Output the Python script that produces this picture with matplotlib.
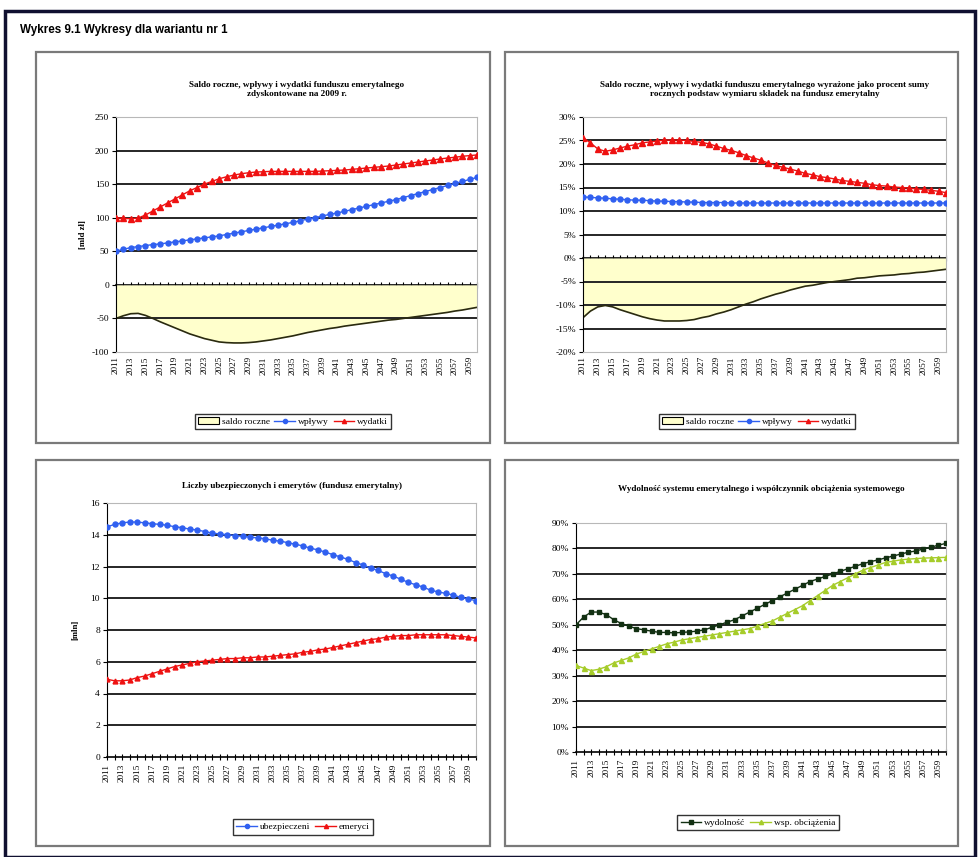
import numpy as np
import matplotlib.pyplot as plt
from matplotlib.patches import Rectangle, Patch
from matplotlib.lines import Line2D

plt.rcParams['font.family'] = ['Liberation Serif', 'DejaVu Serif']

years = list(range(2011, 2061))

# fundusz emerytalny, mld zl (zdyskontowane na 2009 r.)
wplywy = [50, 53, 55.5, 57, 58.5, 60, 61, 62.5, 64, 65.5,
          67, 68.5, 70, 71.5, 73, 75, 77, 79, 81, 83,
          85, 87, 89, 91, 93, 95.5, 98, 100, 102.5, 105,
          107, 109.5, 112, 114.5, 117, 119.5, 122, 124.5, 127, 130,
          133, 136, 139, 142, 145, 148, 151, 154, 157, 160]
wydatki = [100, 99, 98.5, 99.5, 104, 110, 116, 122, 128, 134,
           140, 145, 150, 154, 158, 161, 163.5, 165.5, 167, 168,
           168.5, 169, 169, 169, 169, 169, 169, 169, 169.5, 170,
           170.5, 171, 172, 173, 174, 175, 176, 177, 178.5, 180,
           181.5, 183, 184.5, 186, 187.5, 189, 190, 191.5, 192.5, 193.5]
saldo = [-50, -46, -43, -42.5, -45.5, -50, -55, -59.5, -64, -68.5,
         -73, -76.5, -80, -82.5, -85, -86, -86.5, -86.5, -86, -85,
         -83.5, -82, -80, -78, -76, -73.5, -71, -69, -67, -65,
         -63.5, -61.5, -60, -58.5, -57, -55.5, -54, -52.5, -51.5, -50,
         -48.5, -47, -45.5, -44, -42.5, -41, -39, -37.5, -35.5, -33.5]

# jako % sumy rocznych podstaw wymiaru skladek
wplywy_pct = [13.0, 12.9, 12.8, 12.7, 12.6, 12.5, 12.4, 12.3, 12.3, 12.2,
              12.1, 12.1, 12.0, 12.0, 11.9, 11.9, 11.8, 11.8, 11.8, 11.8,
              11.7, 11.7, 11.7, 11.7, 11.7, 11.7, 11.7, 11.7, 11.7, 11.7,
              11.7, 11.7, 11.7, 11.7, 11.7, 11.7, 11.7, 11.7, 11.7, 11.7,
              11.7, 11.7, 11.7, 11.7, 11.7, 11.7, 11.7, 11.7, 11.7, 11.7]
wydatki_pct = [25.6, 24.5, 23.2, 22.7, 23.0, 23.4, 23.8, 24.1, 24.5, 24.7,
               24.9, 25.1, 25.1, 25.1, 25.0, 24.8, 24.6, 24.3, 23.8, 23.3,
               22.9, 22.4, 21.8, 21.3, 20.8, 20.2, 19.7, 19.3, 18.9, 18.5,
               18.0, 17.7, 17.3, 17.1, 16.8, 16.5, 16.3, 16.1, 15.9, 15.6,
               15.4, 15.3, 15.1, 15.0, 14.9, 14.7, 14.6, 14.4, 14.2, 13.9]
saldo_pct = [-12.7, -11.3, -10.4, -10.1, -10.4, -11.0, -11.5, -12.0, -12.5, -12.9,
             -13.2, -13.4, -13.4, -13.4, -13.3, -13.1, -12.7, -12.4, -11.9, -11.5,
             -11.0, -10.4, -9.8, -9.3, -8.7, -8.2, -7.7, -7.3, -6.8, -6.4,
             -6.0, -5.8, -5.5, -5.2, -5.0, -4.8, -4.6, -4.3, -4.2, -4.0,
             -3.8, -3.7, -3.6, -3.4, -3.3, -3.1, -3.0, -2.8, -2.6, -2.4]

# liczby ubezpieczonych i emerytow, mln
ubezpieczeni = [14.5, 14.65, 14.75, 14.8, 14.8, 14.75, 14.7, 14.65, 14.6, 14.5,
                14.45, 14.35, 14.3, 14.2, 14.1, 14.05, 14.0, 13.95, 13.9, 13.85,
                13.8, 13.75, 13.65, 13.6, 13.5, 13.4, 13.3, 13.15, 13.05, 12.9,
                12.75, 12.6, 12.45, 12.25, 12.1, 11.9, 11.75, 11.55, 11.4, 11.2,
                11.0, 10.85, 10.7, 10.5, 10.4, 10.3, 10.2, 10.05, 9.95, 9.85]
emeryci = [4.9, 4.8, 4.8, 4.85, 5.0, 5.1, 5.25, 5.4, 5.55, 5.7,
           5.8, 5.9, 6.0, 6.05, 6.1, 6.15, 6.2, 6.2, 6.25, 6.25,
           6.3, 6.3, 6.35, 6.4, 6.45, 6.5, 6.6, 6.65, 6.75, 6.8,
           6.9, 7.0, 7.1, 7.2, 7.3, 7.4, 7.45, 7.55, 7.6, 7.65,
           7.65, 7.7, 7.7, 7.7, 7.7, 7.7, 7.65, 7.6, 7.55, 7.5]

# wydolnosc i wspolczynnik obciazenia, %
wydolnosc = [50, 53, 55, 55, 54, 52, 50.5, 49.5, 48.5, 48,
             47.5, 47, 47, 46.8, 47, 47.2, 47.5, 48, 49, 50,
             51, 52, 53.5, 55, 56.5, 58, 59.5, 61, 62.5, 64,
             65.5, 67, 68, 69, 70, 71, 72, 73, 74, 74.8,
             75.5, 76.3, 77, 77.8, 78.5, 79, 79.8, 80.5, 81.3, 82]
wsp_obc = [34, 33, 32, 32.5, 33.5, 35, 36, 37, 38.5, 39.5,
           40.5, 41.5, 42.5, 43.2, 44, 44.5, 45, 45.5, 46, 46.5,
           47, 47.5, 48, 48.5, 49.5, 50.5, 51.5, 53, 54.5, 56,
           57.5, 59.5, 61.5, 63.5, 65.5, 67, 68.5, 70, 71.5, 72.5,
           73.5, 74.5, 75, 75.5, 75.8, 76, 76.2, 76.3, 76.4, 76.5]

W, H = 980, 857
fig = plt.figure(figsize=(W / 100, H / 100), dpi=100)


def px(l, t, r, b):
    return [l / W, 1 - b / H, (r - l) / W, (b - t) / H]


def fx(x):
    return x / W


def fy(y):
    return 1 - y / H


BLUE = '#3060f0'
RED = '#ee1111'
YELLOW = '#ffffcc'
DARK = '#123012'
LIME = '#a6cc2a'
FS = 6.8
FT = 6.55

# ramka strony
fig.add_artist(Rectangle((fx(5), fy(857)), fx(970), fy(11) - fy(857), transform=fig.transFigure,
                         fill=False, ec='#101030', lw=2.5))
fig.text(fx(20), fy(30), 'Wykres 9.1 Wykresy dla wariantu nr 1',
         family=['Liberation Sans Narrow', 'Liberation Sans'], weight='bold', fontsize=8.4, va='center')

# ramki wykresow
for l, t, r, b in [(36, 52, 490, 443), (505, 52, 958, 443), (36, 460, 490, 846), (505, 460, 958, 846)]:
    fig.add_artist(Rectangle((fx(l), fy(b)), fx(r - l), fy(t) - fy(b), transform=fig.transFigure,
                             fill=False, ec='#7a7a7a', lw=1.6))

x = np.arange(len(years))
labels = [str(y) if (y - 2011) % 2 == 0 else '' for y in years]


def style(ax, ymin, ymax, step, pct, zero_axis):
    ax.set_xlim(0, len(years) - 1)
    ax.set_ylim(ymin, ymax)
    ticks = np.arange(ymin, ymax + step / 2, step)
    ax.set_yticks(ticks)
    ax.set_yticklabels([('%d%%' if pct else '%d') % v for v in ticks], fontsize=FS)
    for v in ticks[1:-1]:
        if v != 0 or not zero_axis:
            ax.axhline(v, color='#262626', lw=1.4, zorder=1)
    for s in ['top', 'right', 'bottom']:
        ax.spines[s].set_color('#b8b8b8')
    ax.spines['left'].set_color('black')
    ax.tick_params(axis='y', direction='out', length=3, pad=2, width=0.8)
    ax.set_xticks(x)
    ax.set_xticklabels(labels, rotation=90, fontsize=6.6)
    if zero_axis:
        ax.tick_params(axis='x', length=0, pad=3)
        sec = ax.secondary_xaxis((0 - ymin) / (ymax - ymin))
        sec.set_xticks(x)
        sec.tick_params(axis='x', direction='inout', length=4, width=0.8,
                        labelbottom=False, labeltop=False)
        sec.spines['bottom'].set_color('black')
        sec.spines['bottom'].set_linewidth(1.2)
    else:
        ax.spines['bottom'].set_color('black')
        ax.spines['bottom'].set_linewidth(1.2)
        ax.tick_params(axis='x', direction='inout', length=4, width=0.8, pad=3)


def legend(ax, handles, names, cx, cy):
    lg = ax.legend(handles, names, loc='center', bbox_to_anchor=(fx(cx), fy(cy)),
                   bbox_transform=fig.transFigure, ncol=len(handles), fontsize=FS,
                   frameon=True, fancybox=False, edgecolor='black', handlelength=2.2,
                   handletextpad=0.3, columnspacing=0.5, borderpad=0.35)
    lg.get_frame().set_linewidth(1.0)


h_saldo = Patch(fc=YELLOW, ec='black', lw=0.8)
h_blue = Line2D([], [], color=BLUE, marker='o', ms=3, lw=1)
h_red = Line2D([], [], color=RED, marker='^', ms=3, lw=1)

# 1. saldo, wplywy, wydatki w mld zl
ax1 = fig.add_axes(px(116, 117, 477, 352))
ax1.fill_between(x, saldo, 0, color=YELLOW, lw=0, zorder=0.5)
ax1.plot(x, saldo, color='#2a2a10', lw=1.2, zorder=2)
ax1.plot(x, wplywy, color=BLUE, marker='o', ms=3.6, lw=1, zorder=3)
ax1.plot(x, wydatki, color=RED, marker='^', ms=4, lw=1, zorder=3)
style(ax1, -100, 250, 50, False, True)
ax1.set_title('Saldo roczne, wpływy i wydatki funduszu emerytalnego\nzdyskontowane na 2009 r.',
              fontsize=FT, weight='bold', linespacing=1.15, pad=15)
fig.text(fx(83), fy(235), '[mld zł]', rotation=90, fontsize=FS - 0.5, weight='bold', ha='center', va='center')
legend(ax1, [h_saldo, h_blue, h_red], ['saldo roczne', 'wpływy', 'wydatki'], 293, 421.5)

# 2. to samo w procentach podstaw wymiaru
ax2 = fig.add_axes(px(583, 117, 946, 352))
ax2.fill_between(x, saldo_pct, 0, color=YELLOW, lw=0, zorder=0.5)
ax2.plot(x, saldo_pct, color='#2a2a10', lw=1.2, zorder=2)
ax2.plot(x, wplywy_pct, color=BLUE, marker='o', ms=3.6, lw=1, zorder=3)
ax2.plot(x, wydatki_pct, color=RED, marker='^', ms=4, lw=1, zorder=3)
style(ax2, -20, 30, 5, True, True)
ax2.set_title('Saldo roczne, wpływy i wydatki funduszu emerytalnego wyrażone jako procent sumy\n'
              'rocznych podstaw wymiaru składek na fundusz emerytalny',
              fontsize=FT, weight='bold', linespacing=1.15, pad=15)
legend(ax2, [h_saldo, h_blue, h_red], ['saldo roczne', 'wpływy', 'wydatki'], 757, 421.5)

# 3. ubezpieczeni i emeryci
ax3 = fig.add_axes(px(107, 503, 476, 757))
ax3.plot(x, ubezpieczeni, color=BLUE, marker='o', ms=3.6, lw=1, zorder=3)
ax3.plot(x, emeryci, color=RED, marker='^', ms=3.5, lw=1, zorder=3)
style(ax3, 0, 16, 2, False, False)
ax3.set_title('Liczby ubezpieczonych i emerytów (fundusz emerytalny)', fontsize=FT, weight='bold', pad=11)
fig.text(fx(75), fy(630), '[mln]', rotation=90, fontsize=FS - 0.5, weight='bold', ha='center', va='center')
legend(ax3, [h_blue, h_red], ['ubezpieczeni', 'emeryci'], 303, 827)

# 4. wydolnosc systemu
ax4 = fig.add_axes(px(576, 523, 946, 752))
ax4.plot(x, wydolnosc, color=DARK, marker='s', ms=3.4, lw=1, zorder=3)
ax4.plot(x, wsp_obc, color=LIME, marker='^', ms=3.6, lw=1, zorder=3)
style(ax4, 0, 90, 10, True, False)
ax4.set_title('Wydolność systemu emerytalnego i współczynnik obciążenia systemowego',
              fontsize=FT, weight='bold', pad=23)
legend(ax4, [Line2D([], [], color=DARK, marker='s', ms=3, lw=1),
             Line2D([], [], color=LIME, marker='^', ms=3, lw=1)],
       ['wydolność', 'wsp. obciążenia'], 758, 822.5)

fig.savefig('out.png', dpi=100)
